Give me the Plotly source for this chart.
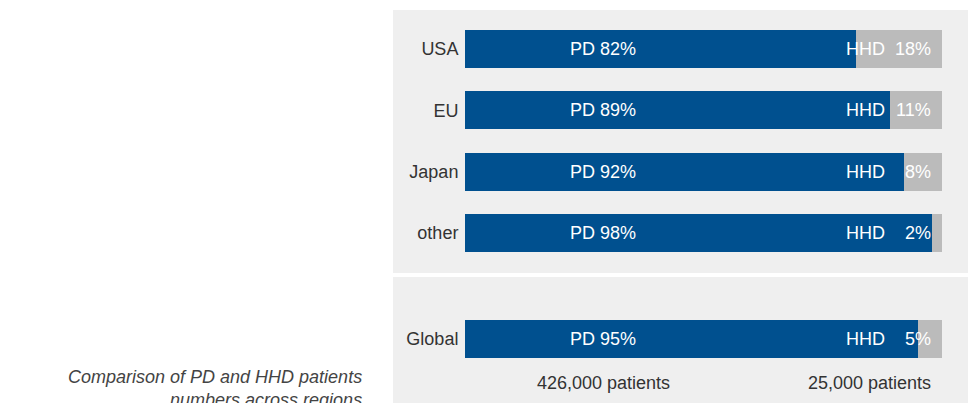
import plotly.graph_objects as go

# Regional split of dialysis patients between peritoneal (PD) and home haemodialysis (HHD)
regions = ["USA", "EU", "Japan", "other"]
pd_share = [82, 89, 92, 98]
hhd_share = [18, 11, 8, 2]

global_label = ["Global"]
global_pd = [95]
global_hhd = [5]

patient_totals = ["426,000 patients", "25,000 patients"]
caption = "<i>Comparison of PD and HHD patients<br>numbers across regions</i>"

W, H = 968, 403
BLUE = "#00508f"
GREY = "#bbbbbb"
PANEL = "#efefef"
FONT = "Liberation Sans, Arial, Helvetica, sans-serif"


def px_x(p):
    return p / W


def px_y(p):
    return 1 - p / H


fig = go.Figure()

fig.add_trace(go.Bar(y=regions, x=pd_share, orientation="h", marker_color=BLUE,
                     marker_line_width=0, width=0.62, xaxis="x", yaxis="y",
                     hoverinfo="skip"))
fig.add_trace(go.Bar(y=regions, x=hhd_share, orientation="h", marker_color=GREY,
                     marker_line_width=0, width=0.62, xaxis="x", yaxis="y",
                     hoverinfo="skip"))
fig.add_trace(go.Bar(y=global_label, x=global_pd, orientation="h", marker_color=BLUE,
                     marker_line_width=0, width=0.62, xaxis="x2", yaxis="y2",
                     hoverinfo="skip"))
fig.add_trace(go.Bar(y=global_label, x=global_hhd, orientation="h", marker_color=GREY,
                     marker_line_width=0, width=0.62, xaxis="x2", yaxis="y2",
                     hoverinfo="skip"))

x_dom = [px_x(465), px_x(942)]
top_dom = [px_y(49 + 61.33 * 3.5), px_y(49 - 61.33 * 0.5)]
bot_dom = [px_y(339 + 30.67), px_y(339 - 30.67)]

axis_common = dict(showgrid=False, zeroline=False, showline=False)
tick_font = dict(family=FONT, size=18, color="#333333")

fig.update_layout(
    width=W, height=H,
    margin=dict(l=0, r=0, t=0, b=0),
    paper_bgcolor="white",
    plot_bgcolor="rgba(0,0,0,0)",
    barmode="stack",
    showlegend=False,
    xaxis=dict(domain=x_dom, range=[0, 100], visible=False, **axis_common),
    xaxis2=dict(domain=x_dom, range=[0, 100], visible=False, anchor="y2", **axis_common),
    yaxis=dict(domain=top_dom, range=[3.5, -0.5], anchor="x", tickfont=tick_font,
               ticks="outside", ticklen=2, tickcolor="rgba(0,0,0,0)", **axis_common),
    yaxis2=dict(domain=bot_dom, range=[0.5, -0.5], anchor="x2", tickfont=tick_font,
                ticks="outside", ticklen=2, tickcolor="rgba(0,0,0,0)", **axis_common),
)

# grey background panels
fig.add_shape(type="rect", xref="paper", yref="paper", layer="below",
              x0=px_x(393), x1=1.02, y0=px_y(273), y1=px_y(10),
              fillcolor=PANEL, line_width=0)
fig.add_shape(type="rect", xref="paper", yref="paper", layer="below",
              x0=px_x(393), x1=1.02, y0=-0.05, y1=px_y(277),
              fillcolor=PANEL, line_width=0)

bar_font = dict(family=FONT, size=18, color="white")


def add_bar_labels(cats, pd_vals, hhd_vals, yref):
    for cat, p, h in zip(cats, pd_vals, hhd_vals):
        fig.add_annotation(x=px_x(603), y=cat, xref="paper", yref=yref,
                           text=f"PD {p}%", showarrow=False, font=bar_font,
                           xanchor="center", yanchor="middle")
        fig.add_annotation(x=px_x(865), y=cat, xref="paper", yref=yref,
                           text="HHD", showarrow=False, font=bar_font,
                           xanchor="center", yanchor="middle")
        fig.add_annotation(x=px_x(933), y=cat, xref="paper", yref=yref,
                           text=f"{h}%", showarrow=False, font=bar_font,
                           xanchor="right", yanchor="middle")


add_bar_labels(regions, pd_share, hhd_share, "y")
add_bar_labels(global_label, global_pd, global_hhd, "y2")

total_font = dict(family=FONT, size=18, color="#333333")
fig.add_annotation(x=px_x(603), y=px_y(383), xref="paper", yref="paper",
                   text=patient_totals[0], showarrow=False, font=total_font,
                   xanchor="center", yanchor="middle")
fig.add_annotation(x=px_x(933), y=px_y(383), xref="paper", yref="paper",
                   text=patient_totals[1], showarrow=False, font=total_font,
                   xanchor="right", yanchor="middle")

# caption sits partly below the page edge
fig.add_annotation(x=px_x(364), y=px_y(365), xref="paper", yref="paper",
                   text=caption, showarrow=False, align="right",
                   font=dict(family=FONT, size=18, color="#444444"),
                   xanchor="right", yanchor="top")

fig.write_html("out.html")
